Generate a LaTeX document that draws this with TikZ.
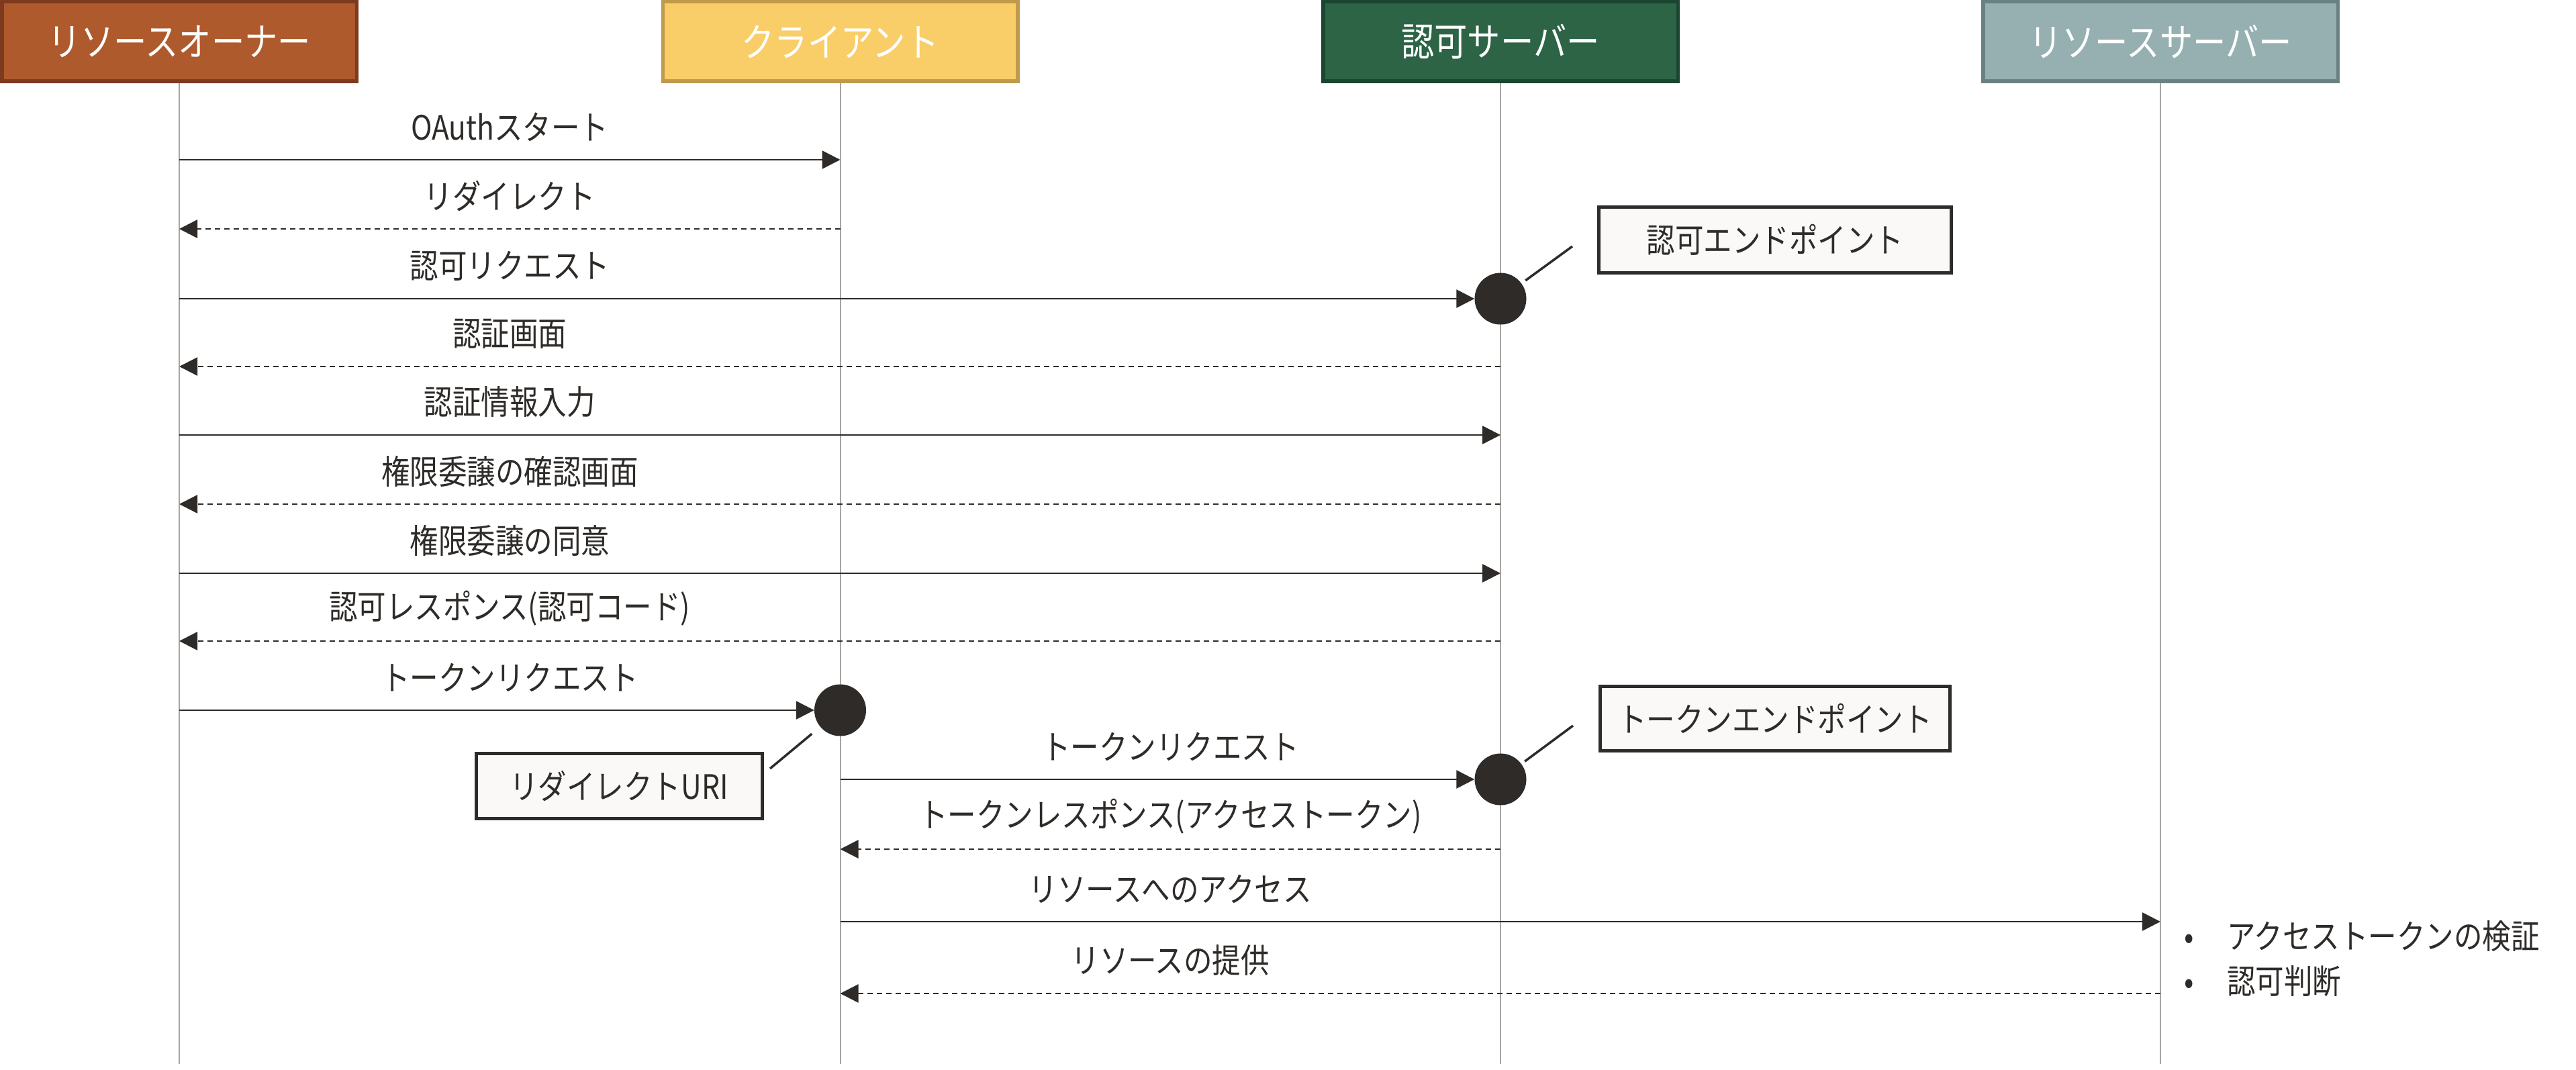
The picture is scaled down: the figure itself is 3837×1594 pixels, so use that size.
\documentclass[tikz,border=0pt]{standalone}
\usepackage{fontspec}
\setmainfont[FakeStretch=0.85]{Noto Sans CJK JP}
\usetikzlibrary{arrows.meta,calc}
\definecolor{roFill}{HTML}{AF5A2D}
\definecolor{roEdge}{HTML}{7E3A1E}
\definecolor{clFill}{HTML}{F9CD68}
\definecolor{clEdge}{HTML}{BE9A4A}
\definecolor{asFill}{HTML}{2C6445}
\definecolor{asEdge}{HTML}{1B4530}
\definecolor{rsFill}{HTML}{96B0B1}
\definecolor{rsEdge}{HTML}{6A8182}
\definecolor{ink}{HTML}{2E2B28}
\definecolor{lifegray}{HTML}{A8A5A2}
\definecolor{noteFill}{HTML}{FAF9F7}
\tikzset{
  header/.style={draw, line width=5.5pt, minimum width=528.5pt, minimum height=118.5pt,
    inner sep=0pt, text=white, font=\fontsize{58}{64}\selectfont},
  lifeline/.style={draw=lifegray, line width=2pt},
  msg/.style={draw=ink, line width=2.5pt, -{Triangle[length=27pt,width=27pt]}},
  resp/.style={msg, dash pattern=on 8pt off 6pt},
  lbl/.style={inner sep=0pt, text=ink, yshift=49pt, font=\fontsize{50}{60}\selectfont},
  enddot/.style={circle, fill=ink, draw=none, minimum size=77pt, inner sep=0pt},
  note/.style={draw=ink, line width=5pt, fill=noteFill, inner sep=0pt, text=ink,
    font=\fontsize{50}{60}\selectfont},
  callout/.style={draw=ink, line width=3.5pt}
}
\begin{document}
\begin{tikzpicture}[x=1pt, y=-1pt]
\useasboundingbox (0,0) rectangle (3837,1594);
\fill[white] (0,0) rectangle (3837,1594);

% header boxes
\node[header, fill=roFill, draw=roEdge] (ro) at (267,62) {リソースオーナー};
\node[header, fill=clFill, draw=clEdge] (cl) at (1251.5,62) {クライアント};
\node[header, fill=asFill, draw=asEdge] (as) at (2235,62) {認可サーバー};
\node[header, fill=rsFill, draw=rsEdge] (rs) at (3218,62) {リソースサーバー};

\coordinate (bottom) at (0,1585);
\begin{scope}[on background layer/.style={}]
\draw[lifeline] (ro.south) -- (ro.south |- bottom);
\draw[lifeline] (cl.south) -- (cl.south |- bottom);
\draw[lifeline] (as.south) -- (as.south |- bottom);
\draw[lifeline] (rs.south) -- (rs.south |- bottom);
\end{scope}

% message rows
\coordinate (y1) at (0,238);
\coordinate (y2) at (0,341);
\coordinate (y3) at (0,445);
\coordinate (y4) at (0,546);
\coordinate (y5) at (0,648);
\coordinate (y6) at (0,751);
\coordinate (y7) at (0,854);
\coordinate (y8) at (0,955);
\coordinate (y9) at (0,1058);
\coordinate (y10) at (0,1161);
\coordinate (y11) at (0,1265);
\coordinate (y12) at (0,1373);
\coordinate (y13) at (0,1480);

% endpoint dots
\node[enddot] (dotA) at (as |- y3) {};
\node[enddot] (dotR) at (cl |- y9) {};
\node[enddot] (dotT) at (as |- y10) {};

% messages
\draw[msg] (ro |- y1) -- (cl |- y1);
\node[lbl] (l1) at ($(ro |- y1)!.5!(cl |- y1)$) {OAuthスタート};
\draw[resp] (cl |- y2) -- (ro |- y2);
\node[lbl] (l2) at ($(ro |- y2)!.5!(cl |- y2)$) {リダイレクト};
\draw[msg] (ro |- y3) -- (dotA);
\node[lbl] (l3) at ($(ro |- y3)!.5!(cl |- y3)$) {認可リクエスト};
\draw[resp] (as |- y4) -- (ro |- y4);
\node[lbl] (l4) at ($(ro |- y4)!.5!(cl |- y4)$) {認証画面};
\draw[msg] (ro |- y5) -- (as |- y5);
\node[lbl] (l5) at ($(ro |- y5)!.5!(cl |- y5)$) {認証情報入力};
\draw[resp] (as |- y6) -- (ro |- y6);
\node[lbl] (l6) at ($(ro |- y6)!.5!(cl |- y6)$) {権限委譲の確認画面};
\draw[msg] (ro |- y7) -- (as |- y7);
\node[lbl] (l7) at ($(ro |- y7)!.5!(cl |- y7)$) {権限委譲の同意};
\draw[resp] (as |- y8) -- (ro |- y8);
\node[lbl] (l8) at ($(ro |- y8)!.5!(cl |- y8)$) {認可レスポンス(認可コード)};
\draw[msg] (ro |- y9) -- (dotR);
\node[lbl] (l9) at ($(ro |- y9)!.5!(cl |- y9)$) {トークンリクエスト};
\draw[msg] (cl |- y10) -- (dotT);
\node[lbl] (l10) at ($(cl |- y10)!.5!(as |- y10)$) {トークンリクエスト};
\draw[resp] (as |- y11) -- (cl |- y11);
\node[lbl] (l11) at ($(cl |- y11)!.5!(as |- y11)$) {トークンレスポンス(アクセストークン)};
\draw[msg] (cl |- y12) -- (rs |- y12);
\node[lbl] (l12) at ($(cl |- y12)!.5!(as |- y12)$) {リソースへのアクセス};
\draw[resp] (rs |- y13) -- (cl |- y13);
\node[lbl] (l13) at ($(cl |- y13)!.5!(as |- y13)$) {リソースの提供};

% annotation boxes and callouts
\node[note, minimum width=525pt, minimum height=98pt] (nA) at (2644,357.5) {認可エンドポイント};
\node[note, minimum width=521pt, minimum height=96pt] (nT) at (2644,1070.5) {トークンエンドポイント};
\node[note, minimum width=426pt, minimum height=97pt] (nR) at (922,1171) {リダイレクトURI};
\coordinate (cA) at (2342,367);
\coordinate (cT) at (2343,1081);
\coordinate (cR) at (1147,1145);
\draw[callout, shorten <=46pt] (dotA.center) -- (cA);
\draw[callout, shorten <=45pt] (dotT.center) -- (cT);
\draw[callout, shorten <=55pt] (dotR.center) -- (cR);

% notes at the resource server
\node[anchor=west, inner sep=0pt, text=ink, align=left, font=\fontsize{50}{67}\selectfont]
  (rsnote) at (3250,1428)
  {\makebox[20pt][c]{•}\hspace{47pt}アクセストークンの検証\\
   \makebox[20pt][c]{•}\hspace{47pt}認可判断};
\end{tikzpicture}
\end{document}
